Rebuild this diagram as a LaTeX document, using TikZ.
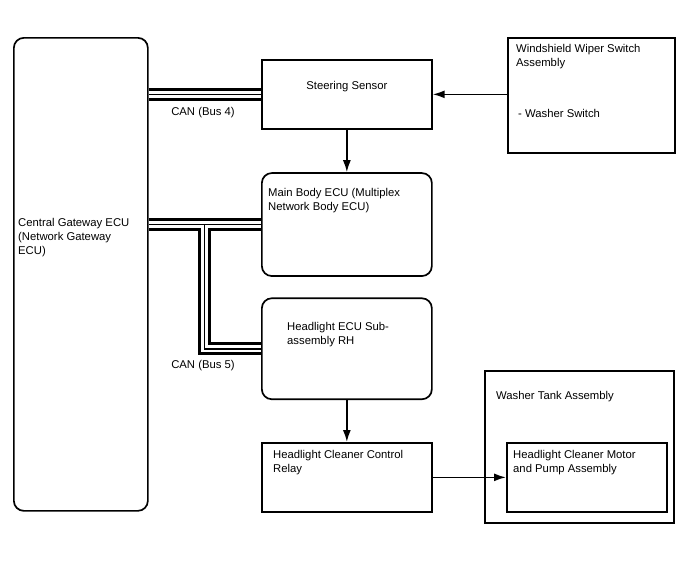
\documentclass[tikz,border=0pt]{standalone}
\usepackage{fontspec}
\setmainfont{Liberation Sans}
\usepackage{tikz}
\usetikzlibrary{positioning,arrows.meta,calc}
\tikzset{
  unit-box/.style={draw=black,line width=1.7pt,inner sep=0pt,anchor=north west},
  unit-ecu/.style={unit-box,rounded corners=10pt},
  unit-text/.style={inner sep=0pt,anchor=north west,align=left,
    font=\fontsize{11.3}{14}\selectfont},
  bus-label/.style={inner sep=0pt,font=\fontsize{11.3}{14}\selectfont},
  arrow/.style={-{Latex[length=12pt,width=8pt]},line width=1.6pt},
  can-outer/.style={line width=13pt,draw=black},
  can-gap/.style={line width=7pt,draw=white},
  can-core/.style={line width=1.5pt,draw=black},
}

\begin{document}
\begin{tikzpicture}[x=1pt,y=-1pt]
  \useasboundingbox (0,0) rectangle (688,560);
  % boxes
  \node[unit-ecu,minimum width=134pt,minimum height=473pt] (gw) at (13,37) {};
  \node[unit-box,minimum width=170pt,minimum height=69pt] (steer) at (261,59) {};
  \node[unit-box,minimum width=167pt,minimum height=115pt] (wiper) at (507,37) {};
  \node[unit-ecu,minimum width=170pt,minimum height=103pt,below=42.5pt of steer] (body) {};
  \node[unit-ecu,minimum width=170pt,minimum height=101pt,below=20.5pt of body] (hecu) {};
  \node[unit-box,minimum width=170pt,minimum height=69pt,below=41.9pt of hecu] (relay) {};
  \node[unit-box,minimum width=189pt,minimum height=152pt] (tank) at (484,370) {};
  \node[unit-box,minimum width=160pt,minimum height=69pt] (motor) at (506,442) {};
  % texts
  \node[unit-text] (gw-t) at ($(gw.north west)+(5,181)$) {Central Gateway ECU\\(Network Gateway\\ECU)};
  \node[unit-text,anchor=north] (steer-t) at ($(steer.north)+(0,22)$) {Steering Sensor};
  \node[unit-text] (wiper-t) at ($(wiper.north west)+(9,7)$) {Windshield Wiper Switch\\Assembly};
  \node[unit-text] (wiper-sw) at ($(wiper.north west)+(11,72)$) {- Washer Switch};
  \node[unit-text] (body-t) at ($(body.north west)+(7,16)$) {Main Body ECU (Multiplex\\Network Body ECU)};
  \node[unit-text] (hecu-t) at ($(hecu.north west)+(26,25)$) {Headlight ECU Sub-\\assembly RH};
  \node[unit-text] (relay-t) at ($(relay.north west)+(12,8)$) {Headlight Cleaner Control\\Relay};
  \node[unit-text] (tank-t) at ($(tank.north west)+(12,21)$) {Washer Tank Assembly};
  \node[unit-text] (motor-t) at ($(motor.north west)+(7,8)$) {Headlight Cleaner Motor\\and Pump Assembly};
  \node[bus-label] (bus4-l) at (203,113) {CAN (Bus 4)};
  \node[bus-label] (bus5-l) at (203,366) {CAN (Bus 5)};
  % CAN buses
  \coordinate (tap) at (204.5,0);
  \foreach \layer in {can-outer,can-gap,can-core}
    \draw[\layer] (gw.east |- steer.west) -- (steer.west)
      (gw.east |- body.west) -- (body.west)
      (tap |- body.west) -- (tap |- hecu.west) -- (hecu.west);
  % signals
  \draw[arrow] (wiper.west |- steer.east) -- (steer.east);
  \draw[arrow] (steer.south) -- (body.north);
  \draw[arrow] (hecu.south) -- (relay.north);
  \draw[arrow] (relay.east) -- (motor.west |- relay.east);
\end{tikzpicture}
\end{document}
